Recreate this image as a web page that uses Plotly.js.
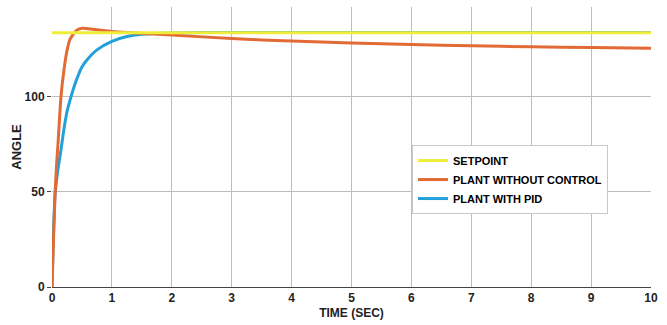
<!DOCTYPE html>
<html>
<head>
<meta charset="utf-8">
<script src="https://cdn.plot.ly/plotly-3.0.1.min.js"></script>
<style>html,body{margin:0;padding:0;background:#fff;}#chart{width:667px;height:325px;}</style>
</head>
<body>
<div id="chart"></div>
<script>
const timeSec = [0, 0.02, 0.05, 0.08, 0.1, 0.15, 0.2, 0.25, 0.3, 0.4, 0.5, 0.6, 0.75, 1, 1.25, 1.5, 2, 3, 4, 5, 6, 7, 8, 9, 10];
const setpoint = [133.5, 133.5, 133.5, 133.5, 133.5, 133.5, 133.5, 133.5, 133.5, 133.5, 133.5, 133.5, 133.5, 133.5, 133.5, 133.5, 133.5, 133.5, 133.5, 133.5, 133.5, 133.5, 133.5, 133.5, 133.5];
const plantNoControl = [0, 20, 48, 66, 75, 100, 114, 124, 130, 134.5, 135.8, 135.6, 135.1, 134.2, 133.6, 133.1, 132.3, 130.4, 129.1, 128.1, 127.3, 126.6, 126.1, 125.7, 125.3];
const plantPID = [0, 24, 48, 57, 62, 72, 83, 92, 98, 108, 115.5, 119.8, 124.5, 129, 131.5, 132.7, 133.4, 133.6, 133.6, 133.6, 133.6, 133.6, 133.6, 133.6, 133.6];
const xTicks = [0,1,2,3,4,5,6,7,8,9,10];
const yTicks = [0,50,100];

const traces = [
  {x: timeSec, y: plantPID, name: 'PLANT WITH PID', mode: 'lines', line: {color: '#22a0dc', width: 3, shape: 'spline', smoothing: 0.6}},
  {x: timeSec, y: plantNoControl, name: 'PLANT WITHOUT CONTROL', mode: 'lines', line: {color: '#e26b35', width: 3, shape: 'spline', smoothing: 0.6}},
  {x: timeSec, y: setpoint, name: 'SETPOINT', mode: 'lines', line: {color: '#eeee3a', width: 3}}
];

const font = {family: 'Liberation Sans, Arial, sans-serif', size: 12, color: '#222'};
const layout = {
  width: 667, height: 325,
  margin: {l: 52, r: 16, t: 7, b: 38},
  paper_bgcolor: '#fff', plot_bgcolor: '#fff',
  font: font,
  showlegend: true,
  legend: {
    x: 0.601, y: 0.507, xanchor: 'left', yanchor: 'top',
    traceorder: 'reversed',
    bordercolor: '#c8c8c8', borderwidth: 1, bgcolor: '#fff',
    font: {family: 'Liberation Sans, Arial, sans-serif', size: 11, color: '#000', weight: 'bold'},
    itemwidth: 30, tracegroupgap: 0
  },
  xaxis: {
    range: [0, 10], tickvals: xTicks, ticktext: xTicks.map(String),
    showgrid: true, gridcolor: '#bdbdbd', gridwidth: 1,
    zeroline: false, showline: true, linecolor: '#444', linewidth: 1,
    ticks: '', tickfont: {size: 12, weight: 'bold', color: '#222'},
    title: {text: 'TIME (SEC)', font: {size: 12, weight: 'bold', color: '#222'}, standoff: 4}
  },
  yaxis: {
    range: [0, 147], tickvals: yTicks, ticktext: yTicks.map(String),
    showgrid: true, gridcolor: '#bdbdbd', gridwidth: 1,
    zeroline: false, showline: false,
    ticks: 'outside', ticklen: 4, tickcolor: '#444',
    tickfont: {size: 12, weight: 'bold', color: '#222'},
    title: {text: 'ANGLE', font: {size: 13, weight: 'bold', color: '#222'}, standoff: 0}
  }
};
Plotly.newPlot('chart', traces, layout, {displayModeBar: false, staticPlot: true});
</script>
</body>
</html>
